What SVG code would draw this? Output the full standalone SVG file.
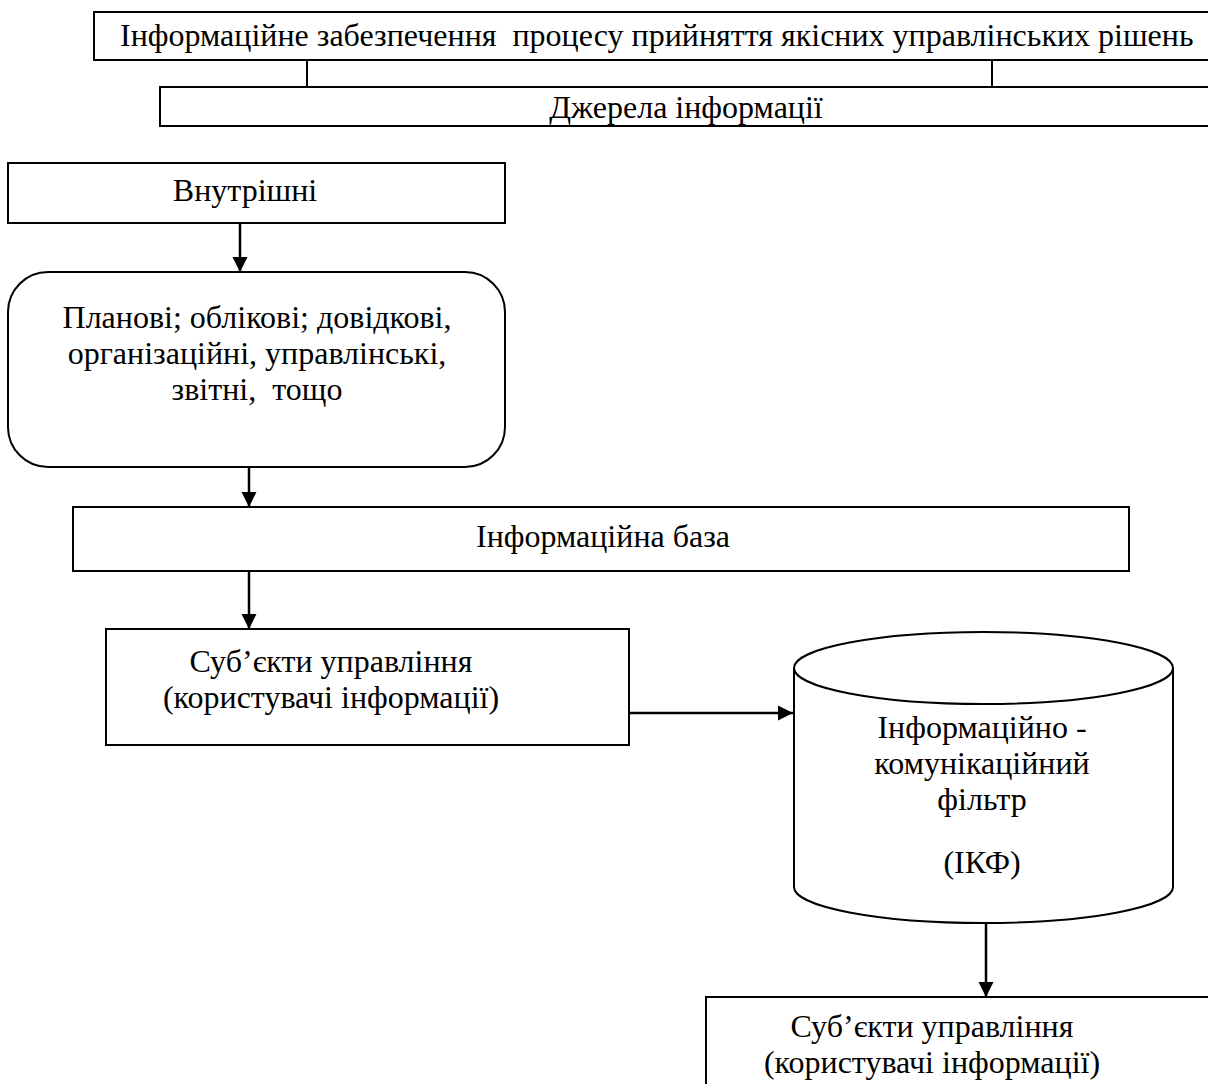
<svg xmlns="http://www.w3.org/2000/svg" width="1208" height="1084" viewBox="0 0 1208 1084">
<style>
.box{fill:#fff;stroke:#000;stroke-width:2}
.ln{fill:none;stroke:#000;stroke-width:2}
.ar{fill:none;stroke:#000;stroke-width:2.5}
.t{font-family:"Liberation Serif","Times New Roman",serif;font-size:32px;fill:#000;white-space:pre}
.m{text-anchor:middle}
</style>
<defs>
<marker id="ah" markerWidth="16" markerHeight="16" refX="15" refY="8" orient="auto" markerUnits="userSpaceOnUse">
<path d="M0,0.5 L15,8 L0,15.5 Z" fill="#000"/>
</marker>
</defs>
<rect width="1208" height="1084" fill="#fff"/>
<g id="connectors">
<line class="ln" x1="307" y1="60" x2="307" y2="87"/>
<line class="ln" x1="992" y1="60" x2="992" y2="87"/>
<line class="ar" x1="240" y1="223" x2="240" y2="272" marker-end="url(#ah)"/>
<line class="ar" x1="249" y1="467" x2="249" y2="507" marker-end="url(#ah)"/>
<line class="ar" x1="249" y1="571" x2="249" y2="629" marker-end="url(#ah)"/>
<line class="ar" x1="629" y1="713" x2="793" y2="713" marker-end="url(#ah)"/>
<line class="ar" x1="986" y1="923" x2="986" y2="997" marker-end="url(#ah)"/>
</g>
<g id="n-top">
<rect class="box" x="94" y="12" width="1140" height="48"/>
<text class="t" x="120" y="46">Інформаційне забезпечення  процесу прийняття якісних управлінських рішень</text>
</g>
<g id="n-sources">
<rect class="box" x="160" y="87" width="1070" height="39"/>
<text class="t m" x="686" y="118">Джерела інформації</text>
</g>
<g id="n-internal">
<rect class="box" x="8" y="163" width="497" height="60"/>
<text class="t m" x="245" y="201">Внутрішні</text>
</g>
<g id="n-types">
<rect class="box" x="8" y="272" width="497" height="195" rx="40" ry="40"/>
<text class="t m" x="257" y="328">Планові; облікові; довідкові,</text>
<text class="t m" x="257" y="364">організаційні, управлінські,</text>
<text class="t m" x="257" y="400">звітні,  тощо</text>
</g>
<g id="n-base">
<rect class="box" x="73" y="507" width="1056" height="64"/>
<text class="t m" x="603" y="547">Інформаційна база</text>
</g>
<g id="n-subjects1">
<rect class="box" x="106" y="629" width="523" height="116"/>
<text class="t m" x="331" y="672">Суб’єкти управління</text>
<text class="t m" x="331" y="708">(користувачі інформації)</text>
</g>
<g id="n-filter">
<path class="box" d="M794,668 L794,887 A189.5,36 0 0 0 1173,887 L1173,668 A189.5,36 0 0 0 794,668 Z"/>
<path class="ln" d="M794,668 A189.5,36 0 0 0 1173,668"/>
<text class="t m" x="982" y="738">Інформаційно -</text>
<text class="t m" x="982" y="774">комунікаційний</text>
<text class="t m" x="982" y="810">фільтр</text>
<text class="t m" x="982" y="873">(ІКФ)</text>
</g>
<g id="n-subjects2">
<rect class="box" x="706" y="997" width="520" height="100"/>
<text class="t m" x="932" y="1037">Суб’єкти управління</text>
<text class="t m" x="932" y="1073">(користувачі інформації)</text>
</g>
</svg>
